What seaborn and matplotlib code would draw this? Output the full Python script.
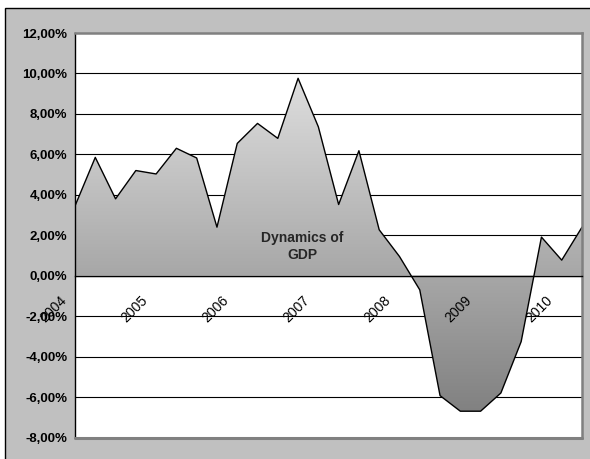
import numpy as np
import matplotlib
matplotlib.use('Agg')
import matplotlib.pyplot as plt
import matplotlib.transforms as mtransforms
from matplotlib.colors import LinearSegmentedColormap
from matplotlib.patches import Rectangle
import seaborn as sns

# quarterly GDP growth, 2004 Q1 .. 2010 Q2
quarters = list(range(26))
gdp_growth = [3.45, 5.85, 3.8, 5.2, 5.03, 6.3, 5.82, 2.4, 6.54, 7.53, 6.79, 9.76, 7.36,
              3.52, 6.18, 2.27, 0.95, -0.7, -5.93, -6.7, -6.7, -5.8, -3.26, 1.91, 0.77, 2.4]
year_labels = ['2004', '2005', '2006', '2007', '2008', '2009', '2010']
y_ticks = [-8, -6, -4, -2, 0, 2, 4, 6, 8, 10, 12]

sns.set_style("white")
plt.rcParams['font.family'] = ['Liberation Sans', 'DejaVu Sans']

fig = plt.figure(figsize=(5.9, 4.59), dpi=100)
fig.patch.set_facecolor('white')
# grey chart frame (cropped at right/bottom like the original)
fig.add_artist(Rectangle((5 / 590, -0.1), 1.2, 1.1 - 8 / 459, transform=fig.transFigure,
                         facecolor='#c0c0c0', edgecolor='black', lw=1, zorder=-1))

ax = fig.add_axes([75 / 590, 1 - 437.5 / 459, 507 / 590, (437.5 - 33) / 459])
ax.set_facecolor('white')

# horizontal gridlines sit under the filled area
for v in y_ticks[1:-1]:
    ax.axhline(v, color='black', lw=0.8, zorder=1)

# gradient filled area
cmap = LinearSegmentedColormap.from_list('gdp', ['#7a7a7a', '#ebebeb'])
poly = ax.fill_between(quarters, gdp_growth, 0, facecolor='none', edgecolor='none')
grad = np.linspace(0, 1, 256).reshape(-1, 1)
im = ax.imshow(grad, extent=[0, 25, -8, 12], origin='lower', aspect='auto', cmap=cmap, zorder=1.5)
im.set_clip_path(poly.get_paths()[0], transform=ax.transData)

sns.lineplot(x=quarters, y=gdp_growth, color='black', lw=1.0, ax=ax, zorder=2)

ax.set_xlim(0, 25)
ax.set_ylim(-8, 12)
ax.grid(False)
ax.set_axisbelow(False)

ax.set_yticks(y_ticks)
ax.set_yticklabels([f'{v:.2f}%'.replace('.', ',') for v in y_ticks], fontweight='bold', fontsize=9.5)
ax.set_xticks(quarters)
ax.set_xticklabels([year_labels[i // 4] if i % 4 == 0 else '' for i in quarters], fontsize=9.5)

ax.spines['bottom'].set_position(('data', 0))
ax.spines['bottom'].set_color('black')
ax.spines['bottom'].set_linewidth(1.0)
ax.spines['left'].set_color('black')
ax.spines['left'].set_linewidth(1.0)
for s in ['top', 'right']:
    ax.spines[s].set_color('#808080')
    ax.spines[s].set_linewidth(1.8)
ax.axhline(-8, color='#808080', lw=2.2, zorder=3, clip_on=False)

ax.tick_params(axis='y', direction='out', length=4, width=1, pad=1.5, colors='black')
ax.tick_params(axis='x', direction='out', length=3, width=1, pad=0, colors='black')
offset = mtransforms.ScaledTranslation(-0.11, -0.18, fig.dpi_scale_trans)
for lab in ax.get_xticklabels():
    lab.set_rotation(45)
    lab.set_ha('right')
    lab.set_va('center')
    lab.set_rotation_mode('anchor')
    lab.set_transform(lab.get_transform() + offset)

ax.text(11.2, 1.45, 'Dynamics of\nGDP', ha='center', va='center', fontweight='bold',
        fontsize=10, linespacing=1.3, zorder=4)

ax.set_xlabel('')
ax.set_ylabel('')
fig.savefig('out.png', dpi=100)
